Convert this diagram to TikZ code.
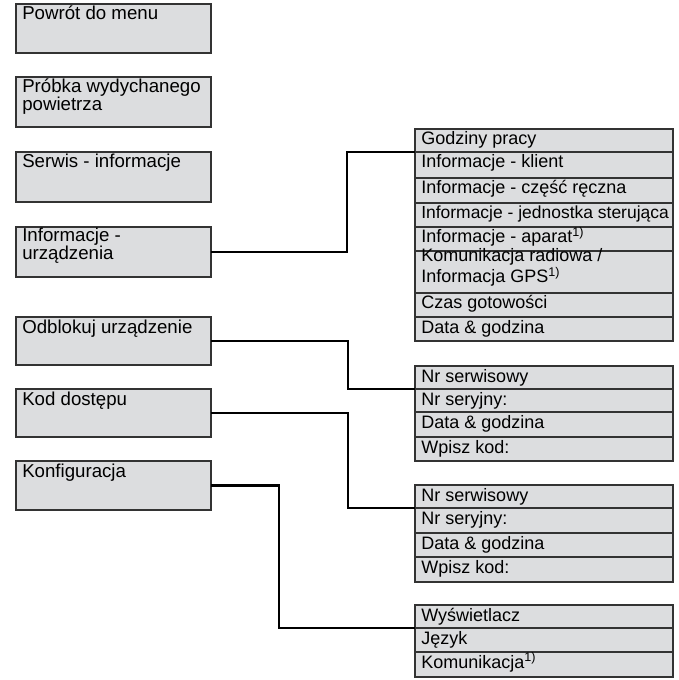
\documentclass[tikz,border=0pt]{standalone}
\usepackage{fontspec}
\setmainfont{Liberation Sans}
\definecolor{boxfill}{HTML}{DCDDDF}
\definecolor{boxline}{HTML}{333333}
\begin{document}
\begin{tikzpicture}[x=0.75pt,y=-0.75pt,
  lbox/.style={draw=boxline,fill=boxfill,line width=0.85pt,anchor=north west,inner sep=0pt,outer sep=0pt,minimum width=146.25pt,minimum height=#1},
  lrow/.style={draw=boxline,fill=boxfill,line width=0.85pt,anchor=north west,inner sep=0pt,outer sep=0pt,minimum width=193.5pt,minimum height=#1},
  ltxt/.style={anchor=base west,inner sep=0pt,align=left,font=\fontsize{14pt}{13.5pt}\selectfont},
  rtxt/.style={anchor=base west,inner sep=0pt,align=left,font=\fontsize{13.5pt}{11.8pt}\selectfont},
  conn/.style={draw=black,line width=1.9pt}]
\useasboundingbox (0,0) rectangle (678,680);

% left boxes
\node[lbox=36.75pt] (b1) at (16,4) {};
\node[lbox=37.5pt]  (b2) at (16,77) {};
\node[lbox=37.5pt]  (b3) at (16,152) {};
\node[lbox=37.5pt]  (b4) at (16,227) {};
\node[lbox=36pt]    (b5) at (16,317) {};
\node[lbox=36pt]    (b6) at (16,389) {};
\node[lbox=36.75pt] (b7) at (16,461) {};

\node[ltxt] (t1) at (22,20) {Powrót do menu};
\node[ltxt] (t2) at (22,111) {Próbka wydychanego\\powietrza};
\node[ltxt] (t3) at (22,168) {Serwis - informacje};
\node[ltxt] (t4) at (22,260) {Informacje -\\urządzenia};
\node[ltxt] (t5) at (22,333) {Odblokuj urządzenie};
\node[ltxt] (t6) at (22,405) {Kod dostępu};
\node[ltxt] (t7) at (22,477) {Konfiguracja};

% list 1
\node[lrow=17.25pt] (a1) at (415,129) {};
\node[lrow=19.5pt]  (a2) at (415,152) {};
\node[lrow=18.75pt] (a3) at (415,178) {};
\node[lrow=18pt]    (a4) at (415,203) {};
\node[lrow=18pt]    (a5) at (415,227) {};
\node[lrow=31.5pt]  (a6) at (415,251) {};
\node[lrow=18pt]    (a7) at (415,293) {};
\node[lrow=18pt]    (a8) at (415,317) {};
\node[rtxt] (ta1) at (421,145) {Godziny pracy};
\node[rtxt] (ta2) at (421,168) {Informacje - klient};
\node[rtxt] (ta3) at (421,194) {Informacje - część ręczna};
\node[rtxt,font=\fontsize{13.1pt}{12pt}\selectfont] (ta4) at (421,219) {Informacje - jednostka sterująca};
\node[rtxt] (ta5) at (421,243) {Informacje - aparat\textsuperscript{1)}};
\node[rtxt] (ta6) at (421,283) {Komunikacja radiowa /\\Informacja GPS\textsuperscript{1)}};
\node[rtxt] (ta7) at (421,309) {Czas gotowości};
\node[rtxt] (ta8) at (421,333) {Data \& godzina};

% list 2
\node[lrow=17.25pt] (c1) at (415,366) {};
\node[lrow=17.25pt] (c2) at (415,389) {};
\node[lrow=18.75pt] (c3) at (415,412) {};
\node[lrow=18pt]    (c4) at (415,437) {};
\node[rtxt] (tc1) at (421,382) {Nr serwisowy};
\node[rtxt] (tc2) at (421,405) {Nr seryjny:};
\node[rtxt] (tc3) at (421,428) {Data \& godzina};
\node[rtxt] (tc4) at (421,453) {Wpisz kod:};

% list 3
\node[lrow=17.25pt] (d1) at (415,485) {};
\node[lrow=18.75pt] (d2) at (415,508) {};
\node[lrow=18pt]    (d3) at (415,533) {};
\node[lrow=18.75pt] (d4) at (415,557) {};
\node[rtxt] (td1) at (421,501) {Nr serwisowy};
\node[rtxt] (td2) at (421,524) {Nr seryjny:};
\node[rtxt] (td3) at (421,549) {Data \& godzina};
\node[rtxt] (td4) at (421,573) {Wpisz kod:};

% list 4
\node[lrow=17.25pt] (e1) at (415,605) {};
\node[lrow=18pt]    (e2) at (415,628) {};
\node[lrow=18.75pt] (e3) at (415,652) {};
\node[rtxt] (te1) at (421,621) {Wyświetlacz};
\node[rtxt] (te2) at (421,644) {Język};
\node[rtxt] (te3) at (421,668) {Komunikacja\textsuperscript{1)}};

% connectors
\coordinate (k1) at (347,0);
\coordinate (k2) at (348,0);
\coordinate (k3) at (348,0);
\coordinate (k4) at (279,0);
\draw[conn] (b4.east) -- (b4.east -| k1) |- (a2.north west);
\draw[conn] (b5.east) -- (b5.east -| k2) |- (c2.north west);
\draw[conn] (b6.east) -- (b6.east -| k3) |- (d2.north west);
\draw[conn] (b7.east) -- (b7.east -| k4) |- (e2.north west);
\end{tikzpicture}
\end{document}
